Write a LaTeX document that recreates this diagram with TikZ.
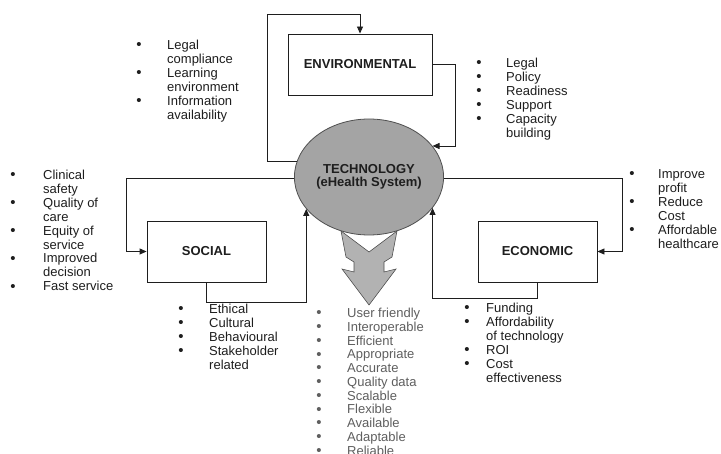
\documentclass[tikz,border=0pt]{standalone}
\usepackage{fontspec}
\setmainfont{Liberation Sans}
\usetikzlibrary{shapes.geometric,arrows.meta}
\definecolor{techfill}{RGB}{164,164,164}
\definecolor{arrfill}{RGB}{178,178,178}
\definecolor{edgegray}{RGB}{80,80,80}
\definecolor{txt}{RGB}{30,30,30}
\definecolor{softtxt}{RGB}{95,95,95}
\newcommand{\bl}{\raisebox{-0.4pt}{\fontsize{15}{13.9}\selectfont\textbullet}}
\begin{document}
\begin{tikzpicture}[x=1pt,y=-1pt,
  box/.style={draw=txt, line width=0.9pt, minimum width=119pt, minimum height=61pt, inner sep=0pt, text=txt, font=\fontsize{13}{14}\selectfont\bfseries},
  conn/.style={draw=txt, line width=0.9pt, -{Triangle[length=7pt,width=6pt]}},
  lst/.style={anchor=base west, inner sep=0pt, text=txt, font=\fontsize{13}{13.9}\selectfont},
  softlst/.style={lst, text=softtxt, font=\fontsize{13}{13.75}\selectfont},
]
\clip (0,0) rectangle (721,454);
\fill[white] (0,0) rectangle (721,454);

% fat downward arrow
\draw[edgegray, fill=arrfill, line width=0.6pt]
  (341,231) -- (346,257) -- (354,262) -- (354,272) -- (342,269) -- (369,305)
  -- (396,269) -- (384,272) -- (384,262) -- (392,257) -- (397,231) -- (369,252) -- cycle;

% nodes
\node[ellipse, draw=edgegray, line width=0.8pt, fill=techfill, minimum width=142pt, minimum height=116pt,
      inner sep=0pt, align=center, text=txt, font=\fontsize{13}{13.3}\selectfont\bfseries]
  (tech) at (369,177) {TECHNOLOGY\\(eHealth System)};
\node[box, minimum width=144pt] (env) at (360,64.5) {ENVIRONMENTAL};
\node[box] (soc) at (206.5,251.5) {SOCIAL};
\node[box] (econ) at (537.5,251.5) {ECONOMIC};
\coordinate (c1) at (267,14);

% connectors
\draw[conn] (tech.168) -| (c1) -| (env.north);
\draw[conn] (env.east) -- ++(23,0) |- (tech.26);
\draw[conn] (tech.181) -- ++(-168,0) |- (soc.west);
\draw[conn] (tech.-1) -- ++(178,0) |- (econ.east);
\draw[conn] (soc.south) -- ++(0,20) -| (tech.207);
\draw[conn] (econ.south) -- ++(0,16) -| (tech.-26);

% lists
\node[lst] (l1) at (136.2,49.6) {\begin{tabular}[t]{@{}p{30.8pt}@{}l@{}}
\bl & Legal\\ & compliance\\ \bl & Learning\\ & environment\\ \bl & Information\\ & availability\end{tabular}};
\node[lst] (l2) at (476.2,67.6) {\begin{tabular}[t]{@{}p{29.8pt}@{}l@{}}
\bl & Legal\\ \bl & Policy\\ \bl & Readiness\\ \bl & Support\\ \bl & Capacity\\ & building\end{tabular}};
\node[lst] (l3) at (10.2,179.6) {\begin{tabular}[t]{@{}p{32.8pt}@{}l@{}}
\bl & Clinical\\ & safety\\ \bl & Quality of\\ & care\\ \bl & Equity of\\ & service\\ \bl & Improved\\ & decision\\ \bl & Fast service\end{tabular}};
\node[lst] (l4) at (629.2,178.6) {\begin{tabular}[t]{@{}p{28.8pt}@{}l@{}}
\bl & Improve\\ & profit\\ \bl & Reduce\\ & Cost\\ \bl & Affordable\\ & healthcare\end{tabular}};
\node[lst] (l5) at (178.2,313.6) {\begin{tabular}[t]{@{}p{30.8pt}@{}l@{}}
\bl & Ethical\\ \bl & Cultural\\ \bl & Behavioural\\ \bl & Stakeholder\\ & related\end{tabular}};
\node[lst] (l6) at (464.2,312.6) {\begin{tabular}[t]{@{}p{21.8pt}@{}l@{}}
\bl & Funding\\ \bl & Affordability\\ & of technology\\ \bl & ROI\\ \bl & Cost\\ & effectiveness\end{tabular}};
\node[softlst] (l7) at (316.2,317.6) {\begin{tabular}[t]{@{}p{30.8pt}@{}l@{}}
\bl & User friendly\\ \bl & Interoperable\\ \bl & Efficient\\ \bl & Appropriate\\ \bl & Accurate\\ \bl & Quality data\\ \bl & Scalable\\ \bl & Flexible\\ \bl & Available\\ \bl & Adaptable\\ \bl & Reliable\end{tabular}};
\end{tikzpicture}
\end{document}
